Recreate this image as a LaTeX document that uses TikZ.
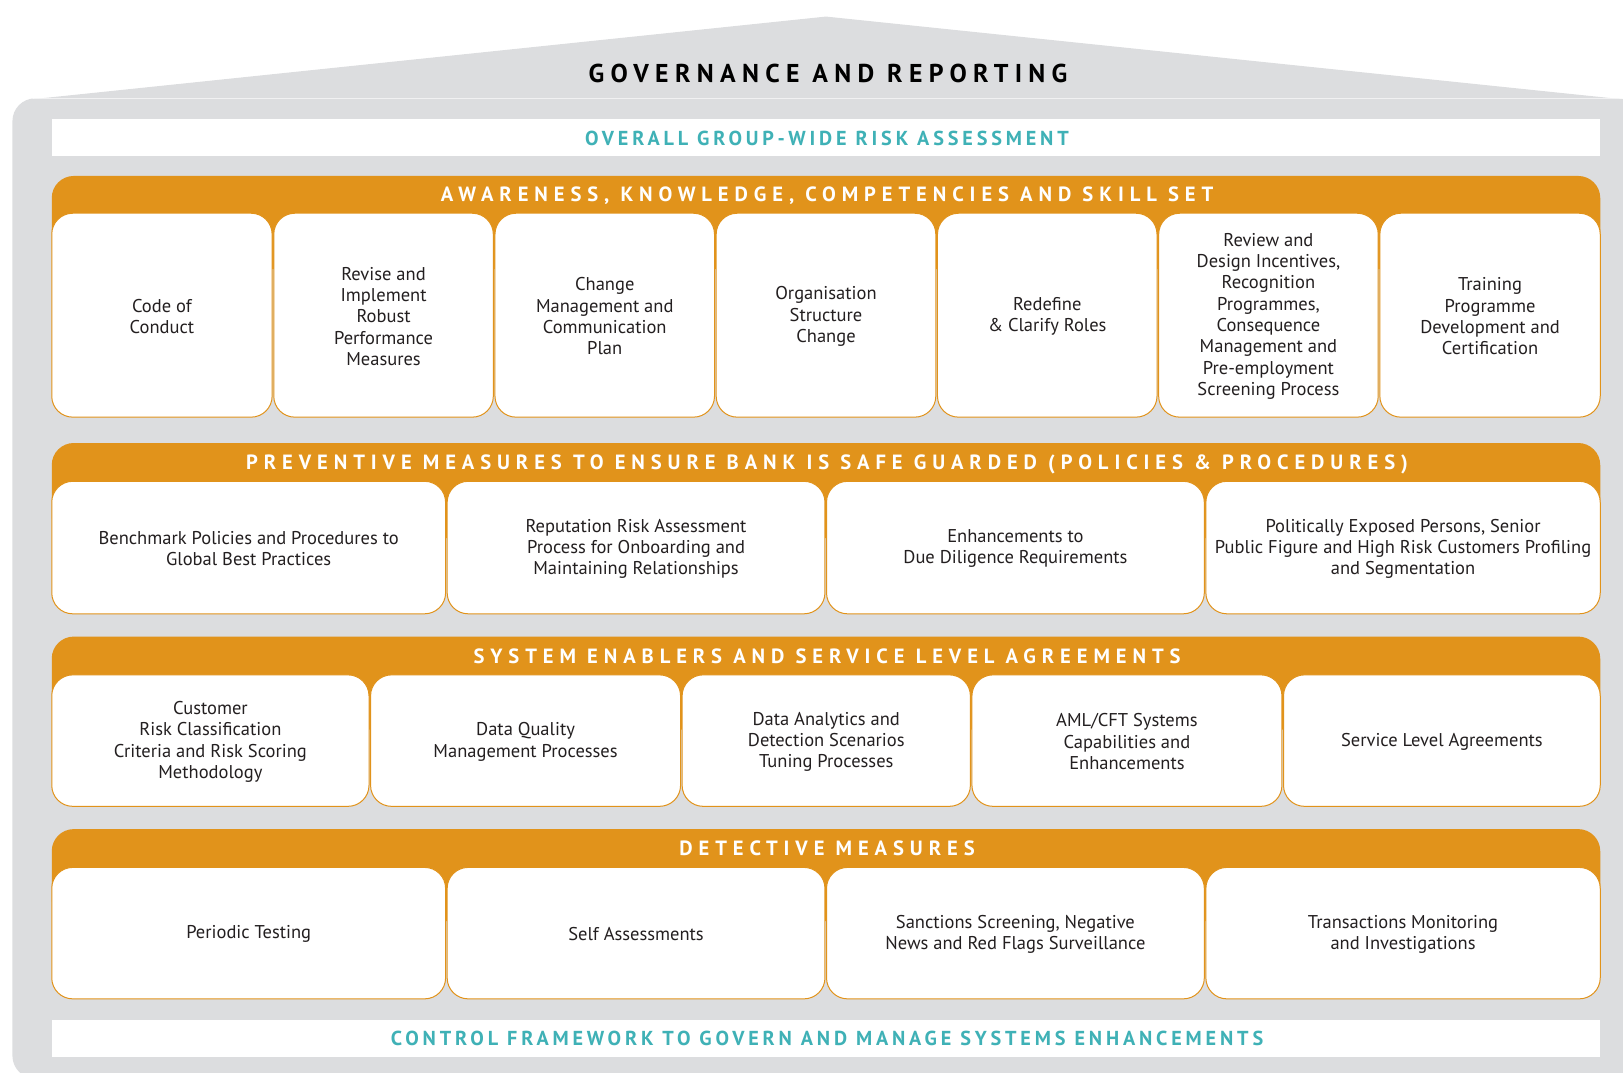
\documentclass[tikz,border=0pt]{standalone}
\usepackage{fontspec}
\setmainfont{PT Sans}
\newfontfamily\govfont[LetterSpace=24.5]{PT Sans}
\newfontfamily\tealfont[LetterSpace=19]{PT Sans}
\newfontfamily\bandfont[LetterSpace=28.7]{PT Sans}
\usetikzlibrary{fit}
\definecolor{housegray}{HTML}{DCDDDF}
\definecolor{bandorange}{HTML}{E1931B}
\definecolor{tealtxt}{HTML}{3FB1B6}
\definecolor{bodytxt}{HTML}{231F20}
\tikzset{
  cell/.style={draw=bandorange, line width=0.5pt, fill=white, rounded corners=10.5pt, inner sep=0pt},
  celltext/.style={inner sep=0pt, align=center, text=bodytxt, font=\fontsize{9.25}{10.66}\selectfont},
  band/.style={fill=bandorange, rounded corners=11pt},
  bandtitle/.style={text=white, inner sep=0pt, text height=7.2pt, text depth=0pt,
    font=\bandfont\bfseries\fontsize{10.3}{12}\selectfont},
  whitebar/.style={fill=white, inner sep=0pt},
  bartitle/.style={text=tealtxt, inner sep=0pt, text height=7.1pt, text depth=0pt,
    font=\tealfont\bfseries\fontsize{10.1}{12}\selectfont},
  govtitle/.style={text=black, inner sep=0pt, text height=9pt, text depth=0pt,
    font=\govfont\bfseries\fontsize{12.9}{15}\selectfont},
}
\newcommand\cellat[6]{\node[cell, fit={(#2,#4) (#3,#5)}] (#1) {};
  \node[celltext] (#1t) at ([yshift=-0.6pt]#1.center) {#6};}
\begin{document}
\begin{tikzpicture}[x=0.5175pt,y=-0.5175pt]
\useasboundingbox (0,0) rectangle (1568,1036);
\clip (0,0) rectangle (1568,1036);
% house
\fill[housegray] (30,96) -- (798,16) -- (1568,96) -- cycle;
\fill[housegray, rounded corners=11.4pt] (12,95) rectangle (1585,1042);
\draw[white, opacity=0.6, line width=0.4pt] (32,95.5) -- (1568,95.5);
\node[govtitle] (gov) at (800,71) {GOVERNANCE AND REPORTING};
% top bar
\node[whitebar, fit={(50,115) (1546,151)}] (topbar) {};
\node[bartitle] (toptitle) at (799,134) {OVERALL GROUP-WIDE RISK ASSESSMENT};
% section 1
\path[band] (50,170) rectangle (1546,260);
\node[bandtitle] (t1) at (799,188) {AWARENESS, KNOWLEDGE, COMPETENCIES AND SKILL SET};
\cellat{a1}{50}{262.9}{206}{403}{Code of\\Conduct}
\cellat{a2}{264.5}{476.6}{206}{403}{Revise and\\Implement\\Robust\\Performance\\Measures}
\cellat{a3}{478.2}{690.3}{206}{403}{Change\\Management and\\Communication\\Plan}
\cellat{a4}{691.9}{904.1}{206}{403}{Organisation\\Structure\\Change}
\cellat{a5}{905.7}{1117.8}{206}{403}{Redefine\\\& Clarify Roles}
\cellat{a6}{1119.4}{1331.5}{206}{403}{Review and\\Design Incentives,\\Recognition\\Programmes,\\Consequence\\Management and\\Pre-employment\\Screening Process}
\cellat{a7}{1333.1}{1546}{206}{403}{Training\\Programme\\Development and\\Certification}
% section 2
\path[band] (50,428) rectangle (1546,520);
\node[bandtitle] (t2) at (799,447) {PREVENTIVE MEASURES TO ENSURE BANK IS SAFE GUARDED (POLICIES \& PROCEDURES)};
\cellat{b1}{50}{430.5}{465}{593}{Benchmark Policies and Procedures to\\Global Best Practices}
\cellat{b2}{432}{797}{465}{593}{Reputation Risk Assessment\\Process for Onboarding and\\Maintaining Relationships}
\cellat{b3}{798.5}{1163.5}{465}{593}{Enhancements to\\Due Diligence Requirements}
\cellat{b4}{1165}{1546}{465}{593}{Politically Exposed Persons, Senior\\Public Figure and High Risk Customers Profiling\\and Segmentation}
% section 3
\path[band] (50,615) rectangle (1546,705);
\node[bandtitle] (t3) at (799,634) {SYSTEM ENABLERS AND SERVICE LEVEL AGREEMENTS};
\cellat{c1}{50}{356.5}{652}{779}{Customer\\Risk Classification\\Criteria and Risk Scoring\\Methodology}
\cellat{c2}{358}{657.5}{652}{779}{Data Quality\\Management Processes}
\cellat{c3}{659}{937.5}{652}{779}{Data Analytics and\\Detection Scenarios\\Tuning Processes}
\cellat{c4}{939}{1238.5}{652}{779}{AML/CFT Systems\\Capabilities and\\Enhancements}
\cellat{c5}{1240}{1546}{652}{779}{Service Level Agreements}
% section 4
\path[band] (50,801) rectangle (1546,890);
\node[bandtitle] (t4) at (799,820) {DETECTIVE MEASURES};
\cellat{d1}{50}{430.5}{838}{965}{Periodic Testing}
\cellat{d2}{432}{797}{838}{965}{Self Assessments}
\cellat{d3}{798.5}{1163.5}{838}{965}{Sanctions Screening, Negative\\News and Red Flags Surveillance}
\cellat{d4}{1165}{1546}{838}{965}{Transactions Monitoring\\and Investigations}
% bottom bar
\node[whitebar, fit={(50,985) (1546,1021)}] (botbar) {};
\node[bartitle] (bottitle) at (799,1003) {CONTROL FRAMEWORK TO GOVERN AND MANAGE SYSTEMS ENHANCEMENTS};
\end{tikzpicture}
\end{document}
